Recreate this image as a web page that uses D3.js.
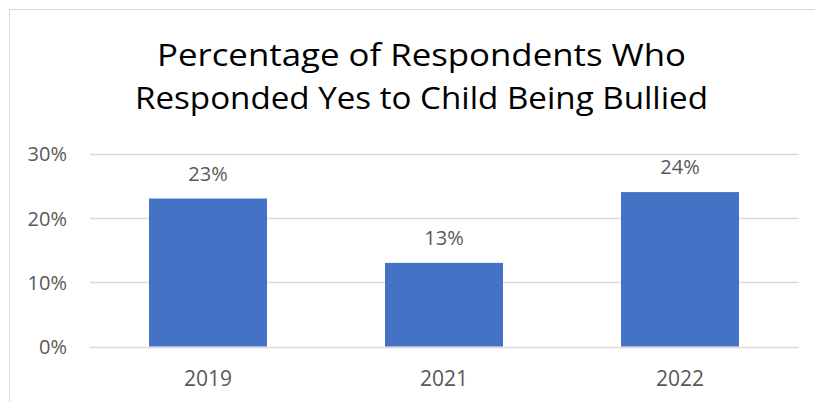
<!DOCTYPE html>
<html><head><meta charset="utf-8">
<script src="https://cdn.jsdelivr.net/npm/d3@7"></script>
<style>html,body{margin:0;padding:0;background:#fff;overflow:hidden}</style>
</head><body>
<svg id="c" width="815" height="402"></svg>
<script>
const categories = ["2019", "2021", "2022"];
const values = [0.23, 0.13, 0.24];
const yTicks = [0, 0.1, 0.2, 0.3];
const titleLines = ["Percentage of Respondents Who", "Responded Yes to Child Being Bullied"];

const svg = d3.select("#c");
const font = "'Open Sans', 'Noto Sans', sans-serif";
const textColor = "#595959";

svg.append("rect").attr("x", 9.5).attr("y", 9.5).attr("width", 830).attr("height", 420)
  .attr("fill", "#fff").attr("stroke", "#d9d9d9").attr("stroke-width", 1);

const x = d3.scaleBand().domain(categories).range([90, 798]).paddingInner(0.5).paddingOuter(0.25);
const y = d3.scaleLinear().domain([0, 0.3]).range([346.5, 153.5]);

// gridlines
svg.append("g").selectAll("line").data(yTicks).join("line")
  .attr("x1", 90).attr("x2", 799)
  .attr("y1", d => Math.round(y(d)) + 0.5).attr("y2", d => Math.round(y(d)) + 0.5)
  .attr("stroke", "#d9d9d9").attr("stroke-width", 1.3);

// y axis labels
const yAxis = d3.axisLeft(y).tickValues(yTicks).tickFormat(d3.format(".0%")).tickSize(0).tickPadding(0);
const ya = svg.append("g").attr("transform", "translate(67,0)").call(yAxis);
ya.select(".domain").remove();
ya.selectAll("text").attr("font-family", font).attr("font-size", 20).attr("fill", textColor)
  .attr("dy", "0.36em");

// x axis labels
const xAxis = d3.axisBottom(x).tickSize(0).tickPadding(0);
const xa = svg.append("g").attr("transform", "translate(0,386)").call(xAxis);
xa.select(".domain").remove();
xa.selectAll("text").attr("font-family", font).attr("font-size", 21).attr("fill", textColor)
  .attr("dy", 0);

// bars
svg.append("g").selectAll("rect").data(values).join("rect")
  .attr("x", (d, i) => x(categories[i]))
  .attr("width", x.bandwidth())
  .attr("y", d => y(d))
  .attr("height", d => y(0) - y(d))
  .attr("fill", "#4472C4");

// data labels
svg.append("g").selectAll("text").data(values).join("text")
  .attr("x", (d, i) => x(categories[i]) + x.bandwidth() / 2)
  .attr("y", d => y(d) - 18)
  .attr("text-anchor", "middle")
  .attr("font-family", font).attr("font-size", 20).attr("fill", textColor)
  .text(d => d3.format(".0%")(d));

// title
const titleWidths = [529, 573];
svg.append("g").selectAll("text").data(titleLines).join("text")
  .attr("x", 421.5)
  .attr("y", (d, i) => 66 + i * 43)
  .attr("text-anchor", "middle")
  .attr("font-family", font).attr("font-size", 31).attr("fill", "#000")
  .attr("textLength", (d, i) => titleWidths[i])
  .attr("lengthAdjust", "spacingAndGlyphs")
  .text(d => d);
</script>
</body></html>
